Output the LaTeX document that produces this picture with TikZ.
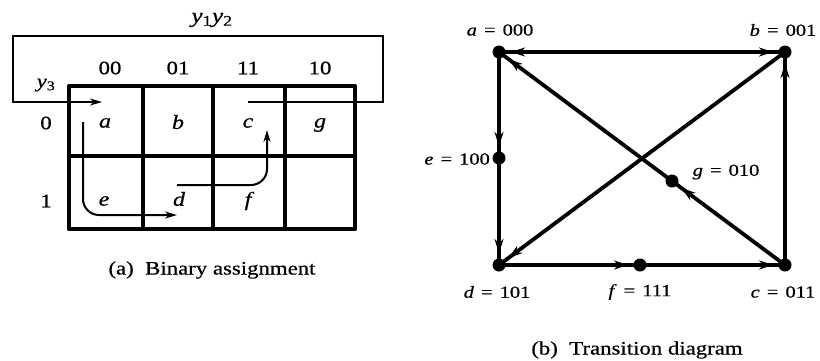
\documentclass[tikz,border=0pt]{standalone}
\usepackage{fontspec}
\setmainfont[FakeStretch=1.2,FakeBold=0.6]{Liberation Serif}
\usetikzlibrary{arrows.meta,decorations.markings}
\newcommand{\eqsp}{\hspace{0.42em}=\hspace{0.42em}}
\begin{document}
\begin{tikzpicture}[x=1pt,y=-1pt,
  lbl/.style={font=\fontsize{17}{19}\selectfont, inner sep=0pt},
  maplbl/.style={font=\fontsize{19}{21}\selectfont, inner sep=0pt},
  cell/.style={font=\fontsize{20}{22}\selectfont\itshape, inner sep=0pt},
  frame/.style={line width=4.5pt, line join=round},
  inner/.style={line width=3.5pt},
  maparrow/.style={line width=2pt, -{Stealth[length=12pt,width=7pt]}},
  dot/.style={circle, fill=black, inner sep=0pt, minimum size=13pt},
  tipedge/.style={line width=3.8pt, postaction={decorate},
    decoration={markings, mark=at position -12pt with {\arrow{Stealth[length=14pt,width=9pt]}}}},
  captext/.style={font=\fontsize{19}{21}\selectfont, inner sep=0pt}
]
\useasboundingbox (0,0) rectangle (820,360);
% ---------- (a) map ----------
\draw[inner] (143,86) -- (143,229) (213,86) -- (213,229) (285,86) -- (285,229) (69,156) -- (355,156);
\draw[frame] (69,86) rectangle (355,229);
\node[font=\fontsize{21}{23}\selectfont, inner sep=0pt] (y12) at (212,20) {\textit{y}\textsubscript{1}\textit{y}\textsubscript{2}};
\node[maplbl] (y3) at (46,85) {\textit{y}\textsubscript{3}};
\node[maplbl] (c00) at (110,68) {00};
\node[maplbl] (c01) at (178,68) {01};
\node[maplbl] (c11) at (248,68) {11};
\node[maplbl] (c10) at (320,68) {10};
\node[maplbl] (r0) at (46,123) {0};
\node[maplbl] (r1) at (46,201) {1};
\node[cell] (ma) at (105,123) {a};
\node[cell] (mb) at (178,122) {b};
\node[cell] (mc) at (248,123) {c};
\node[cell] (mg) at (320,125) {g};
\node[cell] (me) at (104,201) {e};
\node[cell] (md) at (179,199) {d};
\node[cell] (mf) at (248,201) {f};
\coordinate (pc) at (248,102);
\coordinate (pa) at (102,102);
\coordinate (qa) at (83,122);
\coordinate (qd) at (177,215);
\coordinate (sd) at (177,185);
\coordinate (sc) at (267,130);
\draw[line width=2.5pt, -{Stealth[length=12pt,width=7pt]}] (pc) -- (383,102) -- (383,36) -- (13,36) -- (13,102) -- (pa);
\draw[maparrow, rounded corners=16pt] (qa) -- (qa |- qd) -- (qd);
\draw[maparrow, rounded corners=16pt] (sd) -- (sc |- sd) -- (sc);
\node[captext] (capa) at (212,270) {(a)\ \ Binary assignment};
% ---------- (b) transition diagram ----------
\node[dot] (a) at (499,52) {};
\node[dot] (b) at (785,52) {};
\node[dot] (e) at (499,158) {};
\node[dot] (g) at (672,181) {};
\node[dot] (d) at (499,265) {};
\node[dot] (f) at (640,265) {};
\node[dot] (c) at (785,265) {};
\node[lbl] (la) at (500,30) {\textit{a}\eqsp 000};
\node[lbl] (lb) at (783,30) {\textit{b}\eqsp 001};
\node[lbl, anchor=east] (le) at (490,159) {\textit{e}\eqsp 100};
\node[lbl] (lg) at (726,172) {\textit{g}\eqsp 010};
\node[lbl] (ld) at (497,292) {\textit{d}\eqsp 101};
\node[lbl] (lf) at (640,292) {\textit{f}\eqsp 111};
\node[lbl] (lc) at (783,292) {\textit{c}\eqsp 011};
\draw[tipedge] (a.center) -- (b.center);
\draw[tipedge] (b.center) -- (a.center);
\draw[tipedge] (a.center) -- (e.center);
\draw[tipedge] (e.center) -- (d.center);
\draw[tipedge] (b.center) -- (d.center);
\draw[tipedge] (d.center) -- (f.center);
\draw[tipedge] (f.center) -- (c.center);
\draw[tipedge] (c.center) -- (b.center);
\draw[tipedge] (c.center) -- (g.center);
\draw[tipedge] (g.center) -- (a.center);
\node[captext] (capb) at (637,350) {(b)\ \ Transition diagram};
\end{tikzpicture}
\end{document}
